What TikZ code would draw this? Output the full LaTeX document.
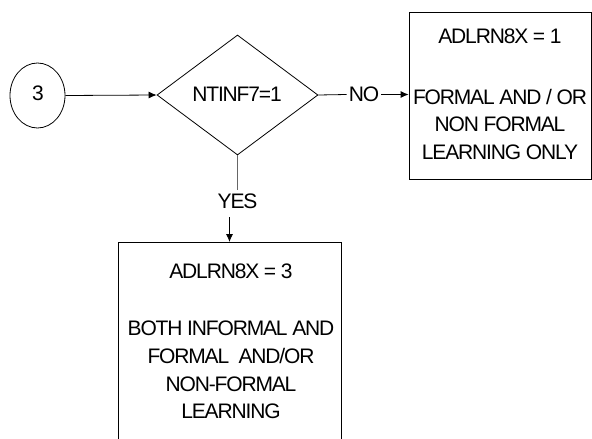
\documentclass[tikz,border=0pt]{standalone}
\usepackage{fontspec}
\setmainfont{Liberation Sans}[LetterSpace=-5.5]
\usetikzlibrary{shapes.geometric,arrows.meta}
\begin{document}
\begin{tikzpicture}[x=1pt,y=-1pt,
  every node/.style={font=\fontsize{21}{27.7}\selectfont},
  line/.style={line width=0.8pt,draw=black},
  arr/.style={line width=0.8pt,-{Latex[length=8pt,width=7pt]}},
  box/.style={draw,line width=0.8pt,inner sep=0pt},
  txt/.style={inner sep=0pt,align=center}]
\useasboundingbox (0,0) rectangle (592,439);
\clip (0,0) rectangle (592,439);
% shapes
\node[box,ellipse,minimum width=55pt,minimum height=65pt] (c3) at (37.5,95.5) {};
\node[txt] (c3t) at (38,93) {3};
\node[box,diamond,minimum width=161pt,minimum height=120pt,aspect=1.34] (d) at (237.5,95) {};
\node[txt] (dt) at (237,94) {NTINF7=1};
\node[box,rectangle,minimum width=182pt,minimum height=167pt] (r) at (500,95.5) {};
\node[txt] (rt) at (500,94.3) {ADLRN8X = 1\\[32.8pt]FORMAL AND / OR\\NON FORMAL\\LEARNING ONLY};
\node[box,rectangle,anchor=north,minimum width=223pt,minimum height=240pt] (b) at (229.5,242) {};
\node[txt] (bt) at (231,341.5) {ADLRN8X = 3\\[29.7pt]BOTH INFORMAL AND\\FORMAL\ \ AND/OR\\NON-FORMAL\\LEARNING};
% labels
\node[txt,inner sep=2pt] (no) at (364,94.5) {NO};
\node[txt,inner sep=4pt] (yes) at (237.5,201.7) {YES};
% connectors
\draw[arr] (c3.east) -- (d.west);
\draw[line] (d.east) -- (no.west);
\draw[arr] (no.east) -- (r.west |- no.east);
\draw[line,draw=black!60] (d.south) -- (yes.north);
\draw[arr] ([yshift=-4pt]yes.south -| b.north) -- (b.north);
\end{tikzpicture}
\end{document}
